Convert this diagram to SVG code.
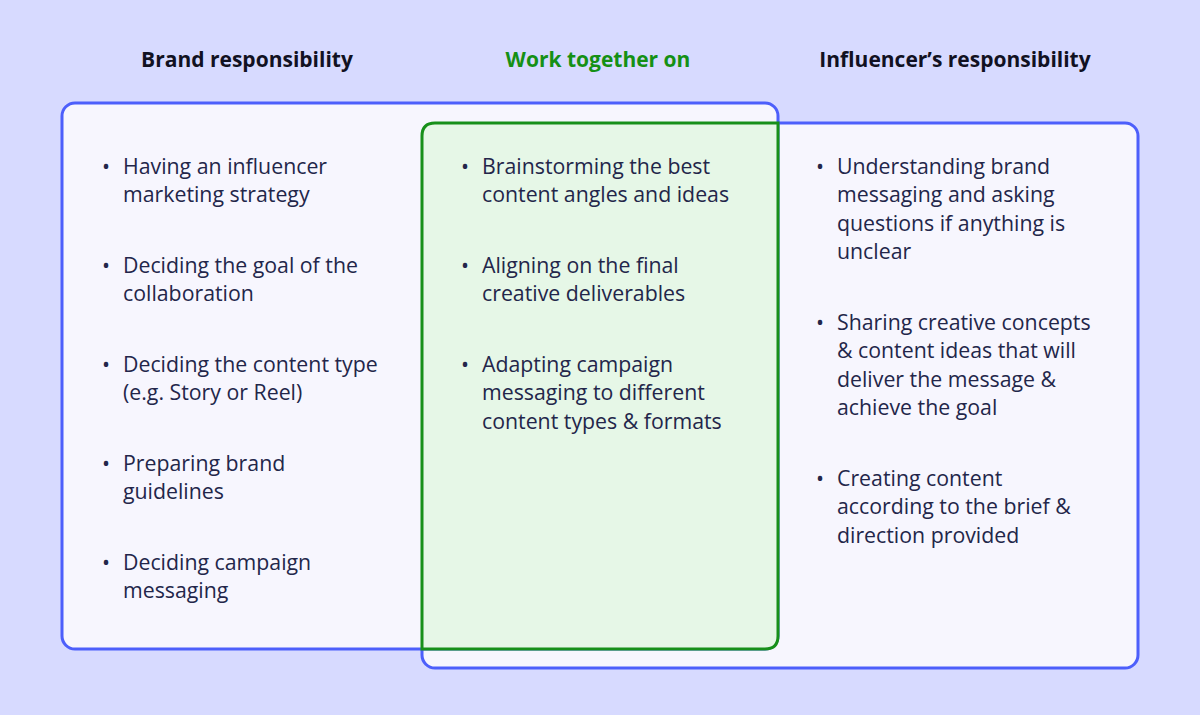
<svg xmlns="http://www.w3.org/2000/svg" width="1200" height="715" viewBox="0 0 1200 715">
<style>
.h{font-family:"Open Sans","Noto Sans",sans-serif;font-size:21px;font-weight:700;text-anchor:middle;fill:#111122}
.t{font-family:"Open Sans","Noto Sans",sans-serif;font-size:21.3px;fill:#23264a}
.box{fill:#f7f6fe;stroke:#4d5ffb;stroke-width:3}
</style>
<rect width="1200" height="715" fill="#d7daff"/>
<text class="h" x="247" y="67">Brand responsibility</text>
<text class="h" x="598" y="67" style="fill:#159015">Work together on</text>
<text class="h" x="955" y="67">Influencer’s responsibility</text>
<g id="influencer">
<rect class="box" x="422" y="123" width="716" height="545" rx="13"/>
</g>
<g id="brand">
<rect class="box" x="62" y="103" width="716" height="546" rx="13"/>
</g>
<g id="together">
<path d="M422 649 V136 Q422 123 435 123 H778 V636 Q778 649 765 649 Z" fill="#e6f7e7" stroke="#17901a" stroke-width="3"/>
</g>
<g id="brand-text" class="t">
<text x="102" y="174">•</text>
<text x="123" y="174">Having an influencer</text>
<text x="123" y="202">marketing strategy</text>
<text x="102" y="273">•</text>
<text x="123" y="273">Deciding the goal of the</text>
<text x="123" y="301">collaboration</text>
<text x="102" y="372">•</text>
<text x="123" y="372">Deciding the content type</text>
<text x="123" y="400">(e.g. Story or Reel)</text>
<text x="102" y="471">•</text>
<text x="123" y="471">Preparing brand</text>
<text x="123" y="499">guidelines</text>
<text x="102" y="570">•</text>
<text x="123" y="570">Deciding campaign</text>
<text x="123" y="598">messaging</text>
</g>
<g id="together-text" class="t">
<text x="461" y="174">•</text>
<text x="482" y="174">Brainstorming the best</text>
<text x="482" y="202">content angles and ideas</text>
<text x="461" y="273">•</text>
<text x="482" y="273">Aligning on the final</text>
<text x="482" y="301">creative deliverables</text>
<text x="461" y="372">•</text>
<text x="482" y="372">Adapting campaign</text>
<text x="482" y="400">messaging to different</text>
<text x="482" y="429">content types &amp; formats</text>
</g>
<g id="influencer-text" class="t">
<text x="816" y="174">•</text>
<text x="837" y="174">Understanding brand</text>
<text x="837" y="202">messaging and asking</text>
<text x="837" y="231">questions if anything is</text>
<text x="837" y="259">unclear</text>
<text x="816" y="330">•</text>
<text x="837" y="330">Sharing creative concepts</text>
<text x="837" y="358">&amp; content ideas that will</text>
<text x="837" y="387">deliver the message &amp;</text>
<text x="837" y="415">achieve the goal</text>
<text x="816" y="486">•</text>
<text x="837" y="486">Creating content</text>
<text x="837" y="514">according to the brief &amp;</text>
<text x="837" y="543">direction provided</text>
</g>
</svg>
